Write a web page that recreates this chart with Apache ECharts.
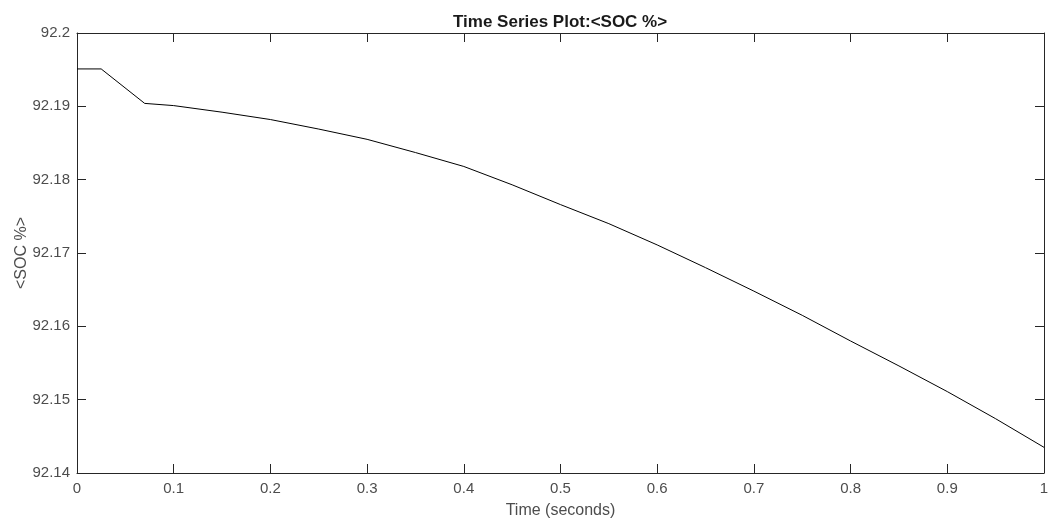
<!DOCTYPE html>
<html>
<head>
<meta charset="utf-8">
<script src="https://cdn.jsdelivr.net/npm/echarts@6/dist/echarts.min.js"></script>
<style>html,body{margin:0;padding:0;background:#fff}#c{width:1050px;height:525px}</style>
</head>
<body>
<div id="c"></div>
<script>
const timeValues = [0, 0.025, 0.07, 0.1, 0.15, 0.2, 0.25, 0.3, 0.35, 0.4, 0.45, 0.5, 0.55, 0.6, 0.65, 0.7, 0.75, 0.8, 0.85, 0.9, 0.95, 1.0];
const socValues = [92.1951, 92.1951, 92.1904, 92.1901, 92.1892, 92.1882, 92.1869, 92.1855, 92.1837, 92.1818, 92.1793, 92.1766, 92.1740, 92.1711, 92.1680, 92.1648, 92.1615, 92.1580, 92.1546, 92.1511, 92.1474, 92.1435];
const titleText = 'Time Series Plot:<SOC %>';
const xName = 'Time (seconds)';
const yName = '<SOC %>';

const font = 'Liberation Sans, Arial, Helvetica, sans-serif';
const axisColor = '#262626';
const labelColor = '#4d4d4d';

const chart = echarts.init(document.getElementById('c'), null, {renderer: 'canvas'});
const fmt = v => String(parseFloat(Number(v).toFixed(4)));
const tick = {show: true, inside: true, length: 9, lineStyle: {color: axisColor, width: 1}};
chart.setOption({
  animation: false,
  backgroundColor: '#fff',
  title: {
    text: titleText, left: 448, top: 9,
    textStyle: {fontFamily: font, fontSize: 17, fontWeight: 'bold', color: '#1a1a1a'}
  },
  grid: {left: 77, right: 6, top: 33, bottom: 52, containLabel: false, outerBoundsMode: 'none'},
  xAxis: [{
    type: 'value', min: 0, max: 1, interval: 0.1,
    name: xName, nameLocation: 'middle', nameGap: 30, nameMoveOverlap: false,
    nameTextStyle: {fontFamily: font, fontSize: 16, color: labelColor},
    axisLine: {show: true, onZero: false, lineStyle: {color: axisColor, width: 1}},
    axisTick: tick,
    axisLabel: {fontFamily: font, fontSize: 15, color: labelColor, margin: 8, formatter: fmt},
    splitLine: {show: false}
  }, {
    type: 'value', position: 'top', min: 0, max: 1, interval: 0.1,
    axisLine: {show: true, onZero: false, lineStyle: {color: axisColor, width: 1}},
    axisTick: tick,
    axisLabel: {show: false}, splitLine: {show: false}
  }],
  yAxis: [{
    type: 'value', min: 92.14, max: 92.2, interval: 0.01,
    name: yName, nameLocation: 'middle', nameGap: 47, nameMoveOverlap: false,
    nameTextStyle: {fontFamily: font, fontSize: 16, color: labelColor},
    axisLine: {show: true, onZero: false, lineStyle: {color: axisColor, width: 1}},
    axisTick: tick,
    axisLabel: {fontFamily: font, fontSize: 15, color: labelColor, margin: 7, formatter: fmt},
    splitLine: {show: false}
  }, {
    type: 'value', position: 'right', min: 92.14, max: 92.2, interval: 0.01,
    axisLine: {show: true, onZero: false, lineStyle: {color: axisColor, width: 1}},
    axisTick: tick,
    axisLabel: {show: false}, splitLine: {show: false}
  }],
  series: [{
    type: 'line',
    data: timeValues.map((t, i) => [t, socValues[i]]),
    smooth: false, showSymbol: false, symbol: 'none',
    lineStyle: {color: '#000', width: 1},
    xAxisIndex: 0, yAxisIndex: 0
  }]
});
</script>
</body>
</html>
